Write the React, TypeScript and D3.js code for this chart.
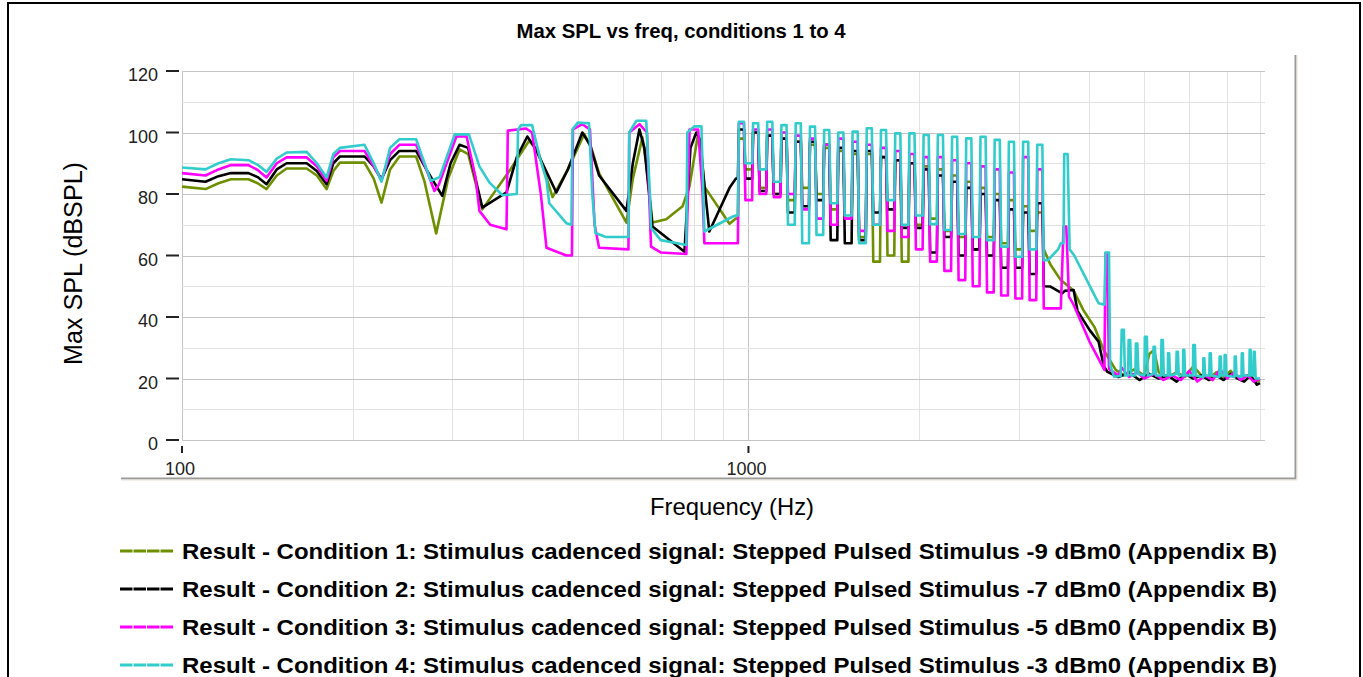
import React from 'react';
import * as d3 from 'd3';

// --- data (Hz, dBSPL) ---

// rising edge of each pulse of the stepped stimulus above ~950 Hz
const stepHz = [958, 1015, 1075, 1139, 1207, 1279, 1355, 1435, 1521, 1611, 1707, 1809, 1916, 2030, 2151, 2279, 2414, 2558, 2710, 2871, 3042, 3222];

// Condition 1 (-9 dBm0)
const head1: [number, number][] = [
  [100, 82.4], [110, 81.6], [116, 83.5], [122, 84.8], [131, 84.8], [136, 83.5], [141, 81.6], [147, 86],
  [153, 88.3], [166, 88.3], [173, 86], [180, 81.6], [185, 87.5], [190, 90.2], [210, 90.2], [218, 85],
  [225, 77.2], [233, 88], [242, 92.2], [259, 92.2], [268, 84], [281, 67.2], [295, 85], [309, 94.5], [320, 93],
  [339, 75], [380, 88], [410, 97.3], [425, 94], [451, 79], [480, 88], [513, 99.5], [528, 95], [545, 86.7],
  [609, 70.7], [625, 85], [650, 98.4], [660, 90], [677, 70.7], [716, 71.8], [765, 76], [787, 82.6],
  [813, 98.4], [825, 95], [836, 82.4], [926, 70.3], [950, 72],
];
const peak1 = [98, 100, 99, 98, 97, 96, 95, 94, 93, 93, 92, 91, 90, 89, 88, 86, 84, 82, 80, 78, 76, 74];
const trough1 = [88, 82, 80, 78, 82, 80, 75, 72, 66, 58, 60, 58, 70, 72, 68, 66, 62, 66, 64, 62, 68, 62];
const tail1: [number, number][] = [
  [3414, 57], [3560, 52], [3750, 48.6], [3900, 42.3], [4080, 36.8], [4240, 29.2], [4450, 22.8], [4600, 21],
  [4800, 23], [5000, 21], [5100, 28], [5200, 29.3], [5300, 22], [5500, 20.5], [5700, 22], [5900, 20.5],
  [6100, 24], [6300, 21], [6500, 20], [6700, 22], [6900, 20.5], [7100, 22.5], [7300, 20], [7600, 21],
  [7900, 19], [8000, 19.5],
];

// Condition 2 (-7 dBm0)
const head2: [number, number][] = [
  [100, 84.8], [110, 84], [116, 85.8], [122, 86.8], [131, 86.8], [136, 85.5], [141, 83.2], [147, 88],
  [153, 90], [166, 90], [173, 87.5], [180, 83.2], [185, 90], [190, 92.2], [210, 92.2], [218, 89],
  [225, 84.8], [233, 91], [242, 94], [259, 94], [270, 88], [288, 79.4], [298, 90], [309, 96], [320, 95],
  [339, 75.6], [374, 80.5], [390, 92], [407, 98.7], [420, 95], [458, 80.5], [480, 88], [509, 100],
  [525, 96], [545, 86], [609, 74.5], [625, 90], [642, 101], [655, 95], [677, 69.4], [771, 61.2],
  [790, 95], [809, 100], [820, 98], [853, 67.8], [926, 82], [950, 85],
];
const peak2 = [101, 100, 99, 98, 97, 97, 96, 95, 94, 94, 92, 91, 90, 88, 86, 84, 82, 80, 78, 75, 74, 77];
const trough2 = [85, 81, 80, 74, 76, 78, 65, 64, 65, 74, 75, 69, 69, 61, 66, 60, 62, 60, 56, 56, 54, 50];
const tail2: [number, number][] = [
  [3414, 49.9], [3580, 47.7], [3617, 48.5], [3750, 48.8], [3810, 42], [4000, 35.8], [4150, 32], [4240, 24],
  [4300, 22.2], [4500, 20.5], [4700, 22], [4900, 19.5], [5100, 21.5], [5300, 20], [5500, 21], [5700, 19],
  [5900, 21.5], [6100, 20], [6300, 21], [6500, 19.5], [6700, 21], [6900, 19.5], [7100, 21.5], [7300, 20],
  [7500, 19], [7700, 21], [7900, 18], [8000, 18.5],
];

// Condition 3 (-5 dBm0)
const head3: [number, number][] = [
  [100, 86.8], [110, 86], [116, 88], [122, 89.4], [131, 89.4], [136, 87.8], [141, 85.4], [147, 90],
  [153, 91.9], [166, 91.9], [173, 89], [180, 84.3], [185, 92], [190, 94], [210, 94], [218, 89],
  [225, 84.5], [233, 93], [242, 96], [259, 96], [270, 88], [279, 81], [284, 83], [305, 98.7], [318, 98.7],
  [330, 85], [335, 74.5], [350, 70], [374, 68.5], [376, 100.6], [405, 101.3], [415, 100], [430, 80],
  [440, 62.5], [477, 60], [488, 60], [490, 101], [509, 102.7], [525, 101], [535, 70], [545, 62.5],
  [614, 62], [616, 100], [642, 102.7], [662, 100], [673, 62.9], [700, 61], [777, 60.5], [787, 101],
  [815, 101], [830, 80], [836, 64], [937, 64],
];
const peak3 = [103, 101, 101, 100, 99, 98, 96, 98, 97, 96, 95, 94, 93, 92, 92, 91, 90, 89, 88, 87, 92, 88];
const trough3 = [78, 80, 79, 80, 75, 72, 70, 72, 68, 70, 68, 66, 62, 58, 55, 52, 50, 48, 47, 46, 45.5, 42.8];
const tail3: [number, number][] = [
  [3560, 42.8], [3600, 69.4], [3640, 69.4], [3680, 46.6], [3750, 44], [4000, 32], [4250, 22.8],
  [4270, 60.7], [4300, 60.7], [4330, 23], [4500, 21], [4560, 23.5], [4700, 20.5], [4850, 22], [5000, 20],
  [5200, 21.5], [5400, 19.5], [5600, 21], [5800, 19.5], [6000, 22.5], [6200, 19], [6400, 21], [6600, 19.5],
  [6800, 23], [7000, 20], [7200, 22], [7400, 19.5], [7600, 21], [7800, 19], [8000, 20],
];

// Condition 4 (-3 dBm0)
const head4: [number, number][] = [
  [100, 88.6], [110, 88], [116, 90], [122, 91.3], [131, 91], [136, 89.5], [141, 87.2], [147, 91.5],
  [153, 93.5], [166, 93.7], [173, 90], [180, 85.4], [185, 93], [190, 95], [210, 96], [218, 90],
  [225, 84], [233, 95], [242, 97.8], [259, 97.8], [268, 90], [275, 84.3], [285, 85.5], [303, 99.4],
  [321, 99.4], [335, 89], [349, 83.7], [368, 79.6], [390, 80], [392, 101], [397, 102.4], [415, 102.4],
  [428, 92], [440, 84.5], [445, 77], [477, 70.5], [487, 70], [489, 101], [500, 103.2], [523, 103],
  [530, 80], [537, 67.3], [560, 66], [614, 66], [616, 100], [634, 103.8], [660, 103.8], [670, 80],
  [673, 69], [700, 65], [777, 63.4], [780, 100], [803, 102], [826, 102], [836, 67.8], [937, 72.6],
  [950, 73],
];
const peak4 = [103.5, 103, 103.5, 102.4, 103, 101.9, 100.8, 100, 100.3, 101.4, 100.8, 99.7, 99.7, 99.2, 99.2, 98.6, 98.1, 98.6, 97.6, 97, 97, 96];
const trough4 = [90, 88, 84, 70, 64, 66.7, 77, 73, 64, 70, 78, 70, 73, 70.2, 68.3, 67, 66, 65, 62.9, 59.6, 62, 58.5];
const tail4: [number, number][] = [
  [3380, 58.5], [3520, 62], [3560, 64], [3600, 64], [3610, 93], [3660, 93], [3690, 62], [3760, 60],
  [4150, 44.5], [4250, 44], [4270, 61], [4330, 61], [4350, 24.4], [4420, 20.6], [4540, 20.8],
  [4560, 35.8], [4600, 35.8], [4620, 21], [4680, 21], [4690, 32.5], [4720, 32.5], [4740, 21], [4820, 21],
  [4830, 31.4], [4860, 31.4], [4880, 21.5], [5000, 21], [5010, 33.6], [5050, 33.6], [5070, 21],
  [5180, 21.5], [5190, 30.3], [5220, 30.3], [5240, 21], [5350, 21], [5360, 32.5], [5390, 32.5],
  [5410, 21], [5500, 21], [5505, 28.2], [5530, 28.2], [5550, 21], [5690, 21.5], [5700, 28.7],
  [5730, 28.7], [5750, 21], [5850, 21], [5855, 29.3], [5880, 29.3], [5900, 21], [6090, 21], [6100, 30.9],
  [6140, 30.9], [6160, 21], [6350, 20.5], [6355, 26.6], [6380, 26.6], [6400, 21], [6510, 21], [6520, 28.2],
  [6550, 28.2], [6570, 21], [6780, 20.5], [6790, 27.1], [6820, 27.1], [6840, 21], [6920, 21], [6930, 27.6],
  [6960, 27.6], [6980, 21], [7210, 20.5], [7220, 27.1], [7250, 27.1], [7270, 21], [7420, 20.5],
  [7430, 28.2], [7460, 28.2], [7480, 21], [7660, 21], [7670, 29.3], [7700, 29.3], [7720, 21], [7790, 21],
  [7800, 28.7], [7830, 28.7], [7860, 20], [8000, 20],
];

const yTicks = [0, 20, 40, 60, 80, 100, 120];
const xLabelTicks = [100, 1000];
const legendLabels = [
  'Result - Condition 1: Stimulus cadenced signal: Stepped Pulsed Stimulus -9 dBm0 (Appendix B)',
  'Result - Condition 2: Stimulus cadenced signal: Stepped Pulsed Stimulus -7 dBm0 (Appendix B)',
  'Result - Condition 3: Stimulus cadenced signal: Stepped Pulsed Stimulus -5 dBm0 (Appendix B)',
  'Result - Condition 4: Stimulus cadenced signal: Stepped Pulsed Stimulus -3 dBm0 (Appendix B)',
];
const colors = ['#6e9000', '#000000', '#ff00ff', '#33cccc'];

// each pulse: vertical rise, flat top, drop to the trough level
const buildSeries = (head: [number, number][], peaks: number[], troughs: number[], tail: [number, number][]) => {
  const pts: [number, number][] = [...head];
  let prev = head[head.length - 1][1];
  stepHz.forEach((hz, i) => {
    pts.push([hz, prev], [hz * 1.004, peaks[i]], [hz * 1.025, peaks[i]], [hz * 1.031, troughs[i]]);
    prev = troughs[i];
  });
  return pts.concat(tail);
};

const series = [
  buildSeries(head1, peak1, trough1, tail1),
  buildSeries(head2, peak2, trough2, tail2),
  buildSeries(head3, peak3, trough3, tail3),
  buildSeries(head4, peak4, trough4, tail4),
];

const W = 1363;
const H = 677;
const font = 'Liberation Sans, Arial, Helvetica, sans-serif';

export default function App() {
  const x = d3.scaleLog().domain([100, 8000]).range([182, 1260]);
  const y = d3.scaleLinear().domain([0, 120]).range([440, 71]);
  const line = d3.line<[number, number]>()
    .x(d => x(d[0]))
    .y(d => y(d[1]));

  const xGrid = x.ticks();
  const yGrid = d3.range(0, 121, 10);

  return (
    <svg width={W} height={H} style={{ position: 'absolute', left: 0, top: 0, display: 'block', background: '#fff' }}
      fontFamily={font}>
      {/* outer frame */}
      <rect x={8} y={3} width={1352} height={700} fill="none" stroke="#000" strokeWidth={2} />

      {/* raised panel edge around the plot */}
      <line x1={121} x2={1296} y1={478.5} y2={478.5} stroke="#9a9a9a" strokeWidth={2} />
      <line x1={121} x2={1297} y1={480} y2={480} stroke="#e6e2d2" strokeWidth={1} />
      <line x1={1295.5} x2={1295.5} y1={55} y2={479} stroke="#9a9a9a" strokeWidth={2} />
      <line x1={1297} x2={1297} y1={55} y2={480} stroke="#e6e2d2" strokeWidth={1} />

      <text x={681} y={38} textAnchor="middle" fontSize={20} fontWeight="bold"
        textLength={329} lengthAdjust="spacingAndGlyphs">Max SPL vs freq, conditions 1 to 4</text>

      {/* grid */}
      <g shapeRendering="crispEdges">
        {xGrid.map(v => (
          <line key={'gx' + v} x1={Math.round(x(v)) + 0.5} x2={Math.round(x(v)) + 0.5} y1={71} y2={440}
            stroke={v === 100 || v === 1000 ? '#c4c4c4' : '#e2e2e2'} strokeWidth={1.5} />
        ))}
        {yGrid.map(v => (
          <line key={'gy' + v} x1={182} x2={1265} y1={Math.round(y(v)) + 0.5} y2={Math.round(y(v)) + 0.5}
            stroke={v % 20 === 0 ? '#c4c4c4' : '#e2e2e2'} strokeWidth={1.5} />
        ))}
      </g>

      {/* y axis ticks */}
      {yTicks.map(v => (
        <g key={'yt' + v}>
          <line x1={166} x2={179} y1={y(v)} y2={y(v)} stroke="#222" strokeWidth={2} />
          <text x={158} y={y(v) + 10} textAnchor="end" fontSize={18} fill="#222">{v}</text>
        </g>
      ))}

      {/* x axis ticks */}
      {xLabelTicks.map(v => (
        <g key={'xt' + v}>
          <line x1={x(v)} x2={x(v)} y1={446} y2={453} stroke="#222" strokeWidth={2} />
          <text x={x(v) - 2} y={475} textAnchor="middle" fontSize={18} fill="#222">{v}</text>
        </g>
      ))}

      <text x={732} y={515} textAnchor="middle" fontSize={24}
        textLength={164} lengthAdjust="spacingAndGlyphs">Frequency (Hz)</text>
      <text transform="translate(82,263.5) rotate(-90)" textAnchor="middle" fontSize={25}
        textLength={203} lengthAdjust="spacingAndGlyphs">Max SPL (dBSPL)</text>

      {/* series */}
      <g fill="none" strokeWidth={2.6} strokeLinejoin="round">
        {series.map((pts, i) => (
          <path key={'s' + i} d={line(pts) || ''} stroke={colors[i]} />
        ))}
      </g>

      {/* legend */}
      {legendLabels.map((label, i) => (
        <g key={'lg' + i} transform={`translate(0,${551 + i * 38})`}>
          <line x1={120} x2={173} y1={0} y2={0} stroke={colors[i]} strokeWidth={3} strokeDasharray="12.5 1" />
          <text x={182} y={7.5} fontSize={22} fontWeight="bold"
            textLength={1095} lengthAdjust="spacingAndGlyphs">{label}</text>
        </g>
      ))}
    </svg>
  );
}
